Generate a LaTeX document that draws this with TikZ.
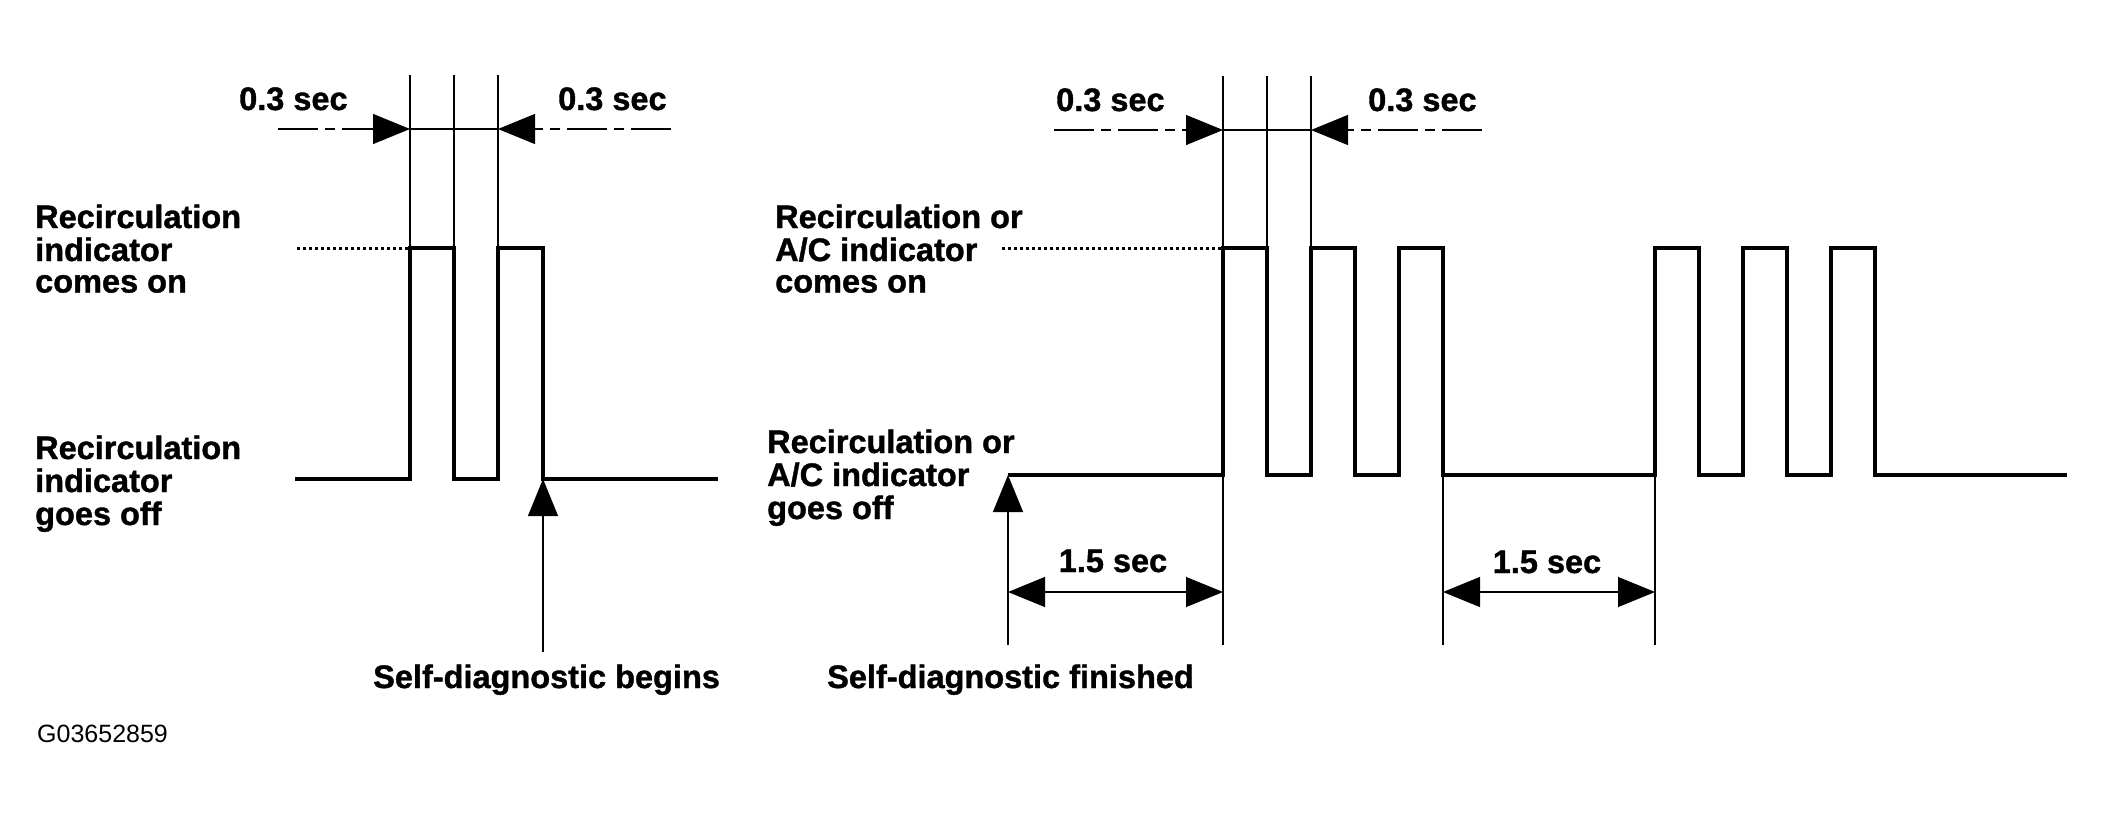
\documentclass[tikz,border=0pt]{standalone}
\usepackage{fontspec}
\setmainfont{Liberation Sans}[BoldFeatures={FakeBold=1.2}]
\usetikzlibrary{arrows.meta}
\begin{document}
\begin{tikzpicture}[x=1pt,y=-1pt,
  wave/.style={line width=3.4pt, line join=miter, line cap=butt},
  thinln/.style={line width=1.2pt},
  dotln/.style={line width=3pt, dash pattern=on 3pt off 3pt},
  phantom/.style={line width=1.2pt, dash pattern=on 40pt off 7pt on 10pt off 7pt},
  tipend/.style={-{Triangle[length=37pt,width=30pt]}},
  dimboth/.style={{Triangle[length=37pt,width=30pt]}-{Triangle[length=37pt,width=30pt]}},
  lbl/.style={font=\fontsize{32.5}{31.5}\selectfont\bfseries, inner sep=0pt, anchor=base west},
  code/.style={font=\fontsize{25}{25}\selectfont, inner sep=0pt, anchor=base west},
]
\useasboundingbox (0,0) rectangle (2105,817);

% ---------- key coordinates ----------
\coordinate (LtopA) at (410,75);  \coordinate (LhiA) at (410,248);
\coordinate (LtopB) at (454,75);  \coordinate (LhiB) at (454,248);
\coordinate (LtopC) at (498,75);  \coordinate (LhiC) at (498,248);
\coordinate (RtopA) at (1223,76); \coordinate (RhiA) at (1223,248);
\coordinate (RtopB) at (1267,76); \coordinate (RhiB) at (1267,248);
\coordinate (RtopC) at (1311,76); \coordinate (RhiC) at (1311,248);

% ---------- labels ----------
\node[lbl] (lcon) at (35,228) {\begin{tabular}[t]{@{}l@{}}Recirculation\\indicator\\comes on\end{tabular}};
\node[lbl] (loff) at (35,459) {\begin{tabular}[t]{@{}l@{}}Recirculation\\indicator\\goes off\end{tabular}};
\node[lbl] (rcon) at (775,228) {\begin{tabular}[t]{@{}l@{}}Recirculation or\\A/C indicator\\comes on\end{tabular}};
\node[lbl] (roff) at (767,453) {\begin{tabular}[t]{@{}l@{}}Recirculation or\\A/C indicator\\goes off\end{tabular}};

\node[lbl] (t1) at (239,110) {0.3 sec};
\node[lbl] (t2) at (558,110) {0.3 sec};
\node[lbl] (t3) at (1056,111) {0.3 sec};
\node[lbl] (t4) at (1368,111) {0.3 sec};

\node[lbl] (sdb) at (373,688) {Self-diagnostic begins};
\node[lbl] (sdf) at (827,688) {Self-diagnostic finished};

\node[lbl, anchor=base] (d1) at (1113,572) {1.5 sec};
\node[lbl, anchor=base] (d2) at (1547,573) {1.5 sec};

\node[code] (code) at (37,742) {G03652859};

% ---------- left diagram ----------
\draw[thinln] (LtopA) -- (LhiA);
\draw[thinln] (LtopB) -- (LhiB);
\draw[thinln] (LtopC) -- (LhiC);
\coordinate (LarrL) at (278,129); \coordinate (LarrA) at (410,129);
\coordinate (LarrC) at (498,129); \coordinate (LarrR) at (671,129);
\draw[phantom, tipend] (LarrL) -- (LarrA);
\draw[thinln] (LarrA) -- (LarrC);
\draw[phantom, tipend] (LarrR) -- (LarrC);

\draw[dotln] (297,248) -- (LhiA);
\draw[wave] (295,479) -- (410,479) -- (410,248) -- (454,248) -- (454,479)
  -- (498,479) -- (498,248) -- (543,248) -- (543,479) -- (718,479);

\coordinate (SDBtip) at (543,479); \coordinate (SDBfoot) at (543,652);
\draw[thinln, tipend] (SDBfoot) -- (SDBtip);

% ---------- right diagram ----------
\draw[thinln] (RtopA) -- (RhiA);
\draw[thinln] (RtopB) -- (RhiB);
\draw[thinln] (RtopC) -- (RhiC);
\coordinate (RarrL) at (1054,130); \coordinate (RarrA) at (1223,130);
\coordinate (RarrC) at (1311,130); \coordinate (RarrR) at (1482,130);
\draw[phantom, tipend] (RarrL) -- (RarrA);
\draw[thinln] (RarrA) -- (RarrC);
\draw[phantom, tipend] (RarrR) -- (RarrC);

\draw[dotln] (1002,248) -- (RhiA);
\draw[wave] (1008,475) -- (1223,475) -- (1223,248) -- (1267,248) -- (1267,475)
  -- (1311,475) -- (1311,248) -- (1355,248) -- (1355,475)
  -- (1399,475) -- (1399,248) -- (1443,248) -- (1443,475)
  -- (1655,475) -- (1655,248) -- (1699,248) -- (1699,475)
  -- (1743,475) -- (1743,248) -- (1787,248) -- (1787,475)
  -- (1831,475) -- (1831,248) -- (1875,248) -- (1875,475) -- (2067,475);

\coordinate (SDFtip) at (1008,475); \coordinate (SDFfoot) at (1008,645);
\draw[thinln, tipend] (SDFfoot) -- (SDFtip);
\coordinate (V1top) at (1223,475); \coordinate (V1bot) at (1223,645);
\coordinate (V2top) at (1443,475); \coordinate (V2bot) at (1443,645);
\coordinate (V3top) at (1655,475); \coordinate (V3bot) at (1655,645);
\draw[thinln] (V1top) -- (V1bot);
\draw[thinln] (V2top) -- (V2bot);
\draw[thinln] (V3top) -- (V3bot);

\draw[thinln, dimboth] (1008,592) -- (1223,592);
\draw[thinln, dimboth] (1443,592) -- (1655,592);
\end{tikzpicture}
\end{document}
